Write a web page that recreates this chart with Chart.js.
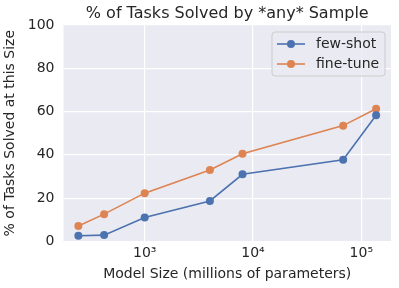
<!DOCTYPE html>
<html><head><meta charset="utf-8">
<script src="https://cdn.jsdelivr.net/npm/chart.js@4/dist/chart.umd.min.js"></script>
<style>html,body{margin:0;padding:0;background:#fff}#wrap{width:399px;height:288px}</style>
</head><body><div id="wrap"><canvas id="c"></canvas></div>
<script>
const modelSizes = [244, 422, 1000, 4000, 8000, 68000, 137000];
const fewShot = [2.6, 2.9, 11.0, 18.7, 31.0, 37.7, 58.3];
const fineTune = [7.1, 12.6, 22.3, 33.0, 40.5, 53.5, 61.3];
const xTicks = [1000, 10000, 100000];
const xTickLabels = {1000: '10³', 10000: '10⁴', 100000: '10⁵'};
const yTicks = [0, 20, 40, 60, 80, 100];
const seriesNames = ['few-shot', 'fine-tune'];
const chartTitle = '% of Tasks Solved by *any* Sample';

const FONT = 'DejaVu Sans';
const TXT = '#262626';

const bgPlugin = {
  id: 'bg',
  beforeDraw(chart) {
    const {ctx, chartArea: a} = chart;
    ctx.save();
    ctx.fillStyle = '#EAEAF2';
    ctx.fillRect(a.left, a.top, a.right - a.left, a.bottom - a.top);
    ctx.fillStyle = TXT;
    ctx.font = '16px "' + FONT + '"';
    ctx.textAlign = 'center';
    ctx.textBaseline = 'middle';
    ctx.fillText(chartTitle, (a.left + a.right) / 2, a.top - 11);
    ctx.restore();
  }
};

const legendPlugin = {
  id: 'innerLegend',
  afterDraw(chart) {
    const {ctx, chartArea: a} = chart;
    const x0 = a.right - 119, y0 = a.top + 7, w = 113, h = 44;
    ctx.save();
    ctx.fillStyle = 'rgba(234,234,242,0.8)';
    ctx.strokeStyle = '#cccccc';
    ctx.lineWidth = 1;
    const r = 3;
    ctx.beginPath();
    ctx.moveTo(x0 + r, y0);
    ctx.arcTo(x0 + w, y0, x0 + w, y0 + h, r);
    ctx.arcTo(x0 + w, y0 + h, x0, y0 + h, r);
    ctx.arcTo(x0, y0 + h, x0, y0, r);
    ctx.arcTo(x0, y0, x0 + w, y0, r);
    ctx.closePath();
    ctx.fill();
    ctx.stroke();
    chart.data.datasets.forEach((ds, i) => {
      const yy = y0 + 12 + i * 20;
      ctx.strokeStyle = ds.borderColor;
      ctx.lineWidth = 1.6;
      ctx.beginPath();
      ctx.moveTo(x0 + 5, yy);
      ctx.lineTo(x0 + 33, yy);
      ctx.stroke();
      ctx.fillStyle = ds.borderColor;
      ctx.beginPath();
      ctx.arc(x0 + 19, yy, 4, 0, Math.PI * 2);
      ctx.fill();
      ctx.fillStyle = TXT;
      ctx.font = '14px "' + FONT + '"';
      ctx.textBaseline = 'middle';
      ctx.textAlign = 'left';
      ctx.fillText(ds.label, x0 + 44, yy);
    });
    ctx.restore();
  }
};

new Chart(document.getElementById('c'), {
  type: 'line',
  data: {
    datasets: [
      {label: seriesNames[0], data: modelSizes.map((x, i) => ({x, y: fewShot[i]})), borderColor: '#4C72B0', backgroundColor: '#4C72B0', borderWidth: 1.6, pointRadius: 4, pointBorderWidth: 0, tension: 0},
      {label: seriesNames[1], data: modelSizes.map((x, i) => ({x, y: fineTune[i]})), borderColor: '#DD8452', backgroundColor: '#DD8452', borderWidth: 1.6, pointRadius: 4, pointBorderWidth: 0, tension: 0}
    ]
  },
  options: {
    responsive: true,
    maintainAspectRatio: false,
    animation: false,
    layout: {padding: {left: 2, right: 8, top: 25, bottom: 5}},
    plugins: {
      legend: {display: false},
      tooltip: {enabled: false},
      title: {display: false}
    },
    scales: {
      x: {
        type: 'logarithmic', min: 178, max: 188000,
        afterBuildTicks(s) { s.ticks = xTicks.map(v => ({value: v, major: true})); },
        ticks: {callback: v => xTickLabels[v] || '', color: TXT, font: {family: FONT, size: 14}, maxRotation: 0, autoSkip: false, padding: 4},
        grid: {color: '#ffffff', lineWidth: 1.2, drawTicks: false},
        border: {display: false},
        title: {display: true, text: 'Model Size (millions of parameters)', color: TXT, font: {family: FONT, size: 14}, padding: {top: 0, bottom: 0}}
      },
      y: {
        min: 0, max: 100,
        afterBuildTicks(s) { s.ticks = yTicks.map(v => ({value: v})); },
        ticks: {color: TXT, font: {family: FONT, size: 14}, padding: 9},
        grid: {color: '#ffffff', lineWidth: 1.2, drawTicks: false},
        border: {display: false},
        title: {display: true, text: '% of Tasks Solved at this Size', color: TXT, font: {family: FONT, size: 14}, padding: {top: 0, bottom: 0}}
      }
    }
  },
  plugins: [bgPlugin, legendPlugin]
});
</script></body></html>
